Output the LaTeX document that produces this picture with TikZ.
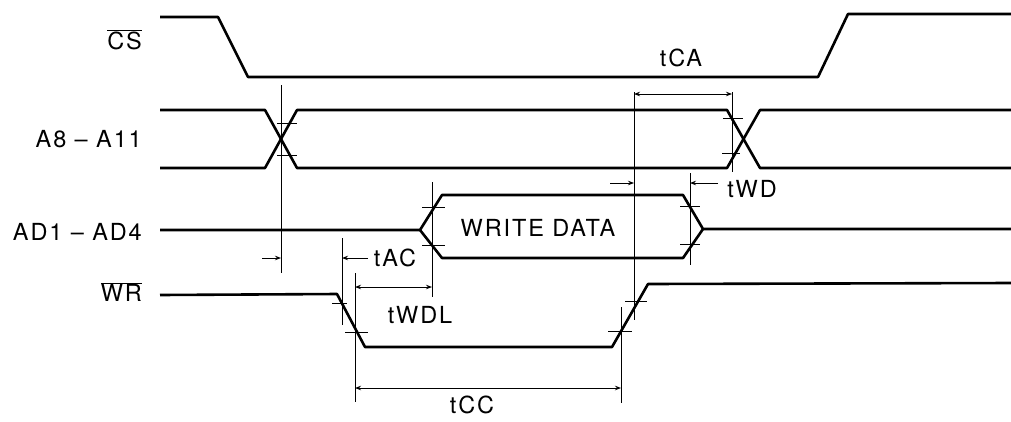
\documentclass[tikz,border=0pt]{standalone}
\usepackage{fontspec}
\setmainfont{TeX Gyre Heros}[LetterSpace=8]
\usetikzlibrary{arrows.meta}
\begin{document}
\begin{tikzpicture}[x=1pt,y=-1pt,
  sig/.style={line width=2.6pt, line join=round},
  guide/.style={line width=0.9pt},
  tick/.style={line width=0.9pt},
  dimto/.style={line width=0.9pt, -{Stealth[length=6pt,width=4.5pt]}},
  dimboth/.style={line width=0.9pt, {Stealth[length=6pt,width=4.5pt]}-{Stealth[length=6pt,width=4.5pt]}},
  lbl/.style={font=\fontsize{23.5}{27}\selectfont, inner sep=0pt},
  signame/.style={lbl, anchor=east}]
\useasboundingbox (0,0) rectangle (1011,421);

% signal names
\node[signame] (lcs) at (142,40) {$\overline{\mbox{CS}}$};
\node[signame] (la) at (142,139) {A8 -- A11};
\node[signame] (lad) at (142,232) {AD1 -- AD4};
\node[signame] (lwr) at (142,292) {$\overline{\mbox{WR}}$};

% waveforms
\draw[sig] (160,17) -- (218,17) -- (248,77) -- (818,77) -- (848,14) -- (1011,14);
\draw[sig] (160,110) -- (265,110) -- (297,168) -- (727,168) -- (760,110) -- (1011,110);
\draw[sig] (160,168) -- (265,168) -- (297,110) -- (727,110) -- (760,168) -- (1011,168);
\draw[sig] (160,230) -- (420,230) -- (442,195) -- (683,195) -- (703,229) -- (1011,229);
\draw[sig] (420,230) -- (442,258) -- (683,258) -- (703,229);
\draw[sig] (160,295) -- (337,294) -- (365,347) -- (612,347) -- (648,284) -- (1011,283);
\node[lbl] (wd) at (538,228) {WRITE DATA};

% ticks
\draw[tick] (277,123) -- (297,123) (277,155) -- (297,155);
\draw[tick] (723,118) -- (743,118) (722,153) -- (740,153);
\draw[tick] (422,207) -- (445,207) (422,245) -- (445,245);
\draw[tick] (680,206) -- (700,206) (680,244) -- (700,244);
\draw[tick] (332,303) -- (347,303) (345,332) -- (368,332);
\draw[tick] (608,331) -- (632,331) (625,301) -- (647,301);

% guide lines
\coordinate (g1t) at (281,85);  \coordinate (g1b) at (281,273);
\coordinate (g2t) at (342,238); \coordinate (g2b) at (342,325);
\coordinate (g3t) at (355,273); \coordinate (g3b) at (355,402);
\coordinate (g4t) at (432,182); \coordinate (g4b) at (432,297);
\coordinate (g5t) at (621,307); \coordinate (g5b) at (621,403);
\coordinate (g6t) at (634,92);  \coordinate (g6b) at (634,320);
\coordinate (g7t) at (690,173); \coordinate (g7b) at (690,265);
\coordinate (g8t) at (732,92);  \coordinate (g8b) at (732,172);
\foreach \g in {1,...,8} \draw[guide] (g\g t) -- (g\g b);

% dimensions
\coordinate (ca1) at (634,94); \coordinate (ca2) at (732,94);
\draw[dimboth] (ca1) -- (ca2);
\node[lbl] (tca) at (681,58) {tCA};

\coordinate (wd0) at (610,183); \coordinate (wd1) at (634,183);
\coordinate (wd2) at (690,183); \coordinate (wd3) at (718,183);
\draw[dimto] (wd0) -- (wd1);
\draw[dimto] (wd3) -- (wd2);
\node[lbl] (twd) at (752,189) {tWD};

\coordinate (ac0) at (262,258); \coordinate (ac1) at (281,258);
\coordinate (ac2) at (342,258); \coordinate (ac3) at (368,258);
\draw[dimto] (ac0) -- (ac1);
\draw[dimto] (ac3) -- (ac2);
\node[lbl] (tac) at (395,258) {tAC};

\coordinate (wl1) at (355,287); \coordinate (wl2) at (432,287);
\draw[dimboth] (wl1) -- (wl2);
\node[lbl] (twdl) at (420,315) {tWDL};

\coordinate (cc1) at (355,388); \coordinate (cc2) at (621,388);
\draw[dimboth] (cc1) -- (cc2);
\node[lbl] (tcc) at (472,405) {tCC};
\end{tikzpicture}
\end{document}
